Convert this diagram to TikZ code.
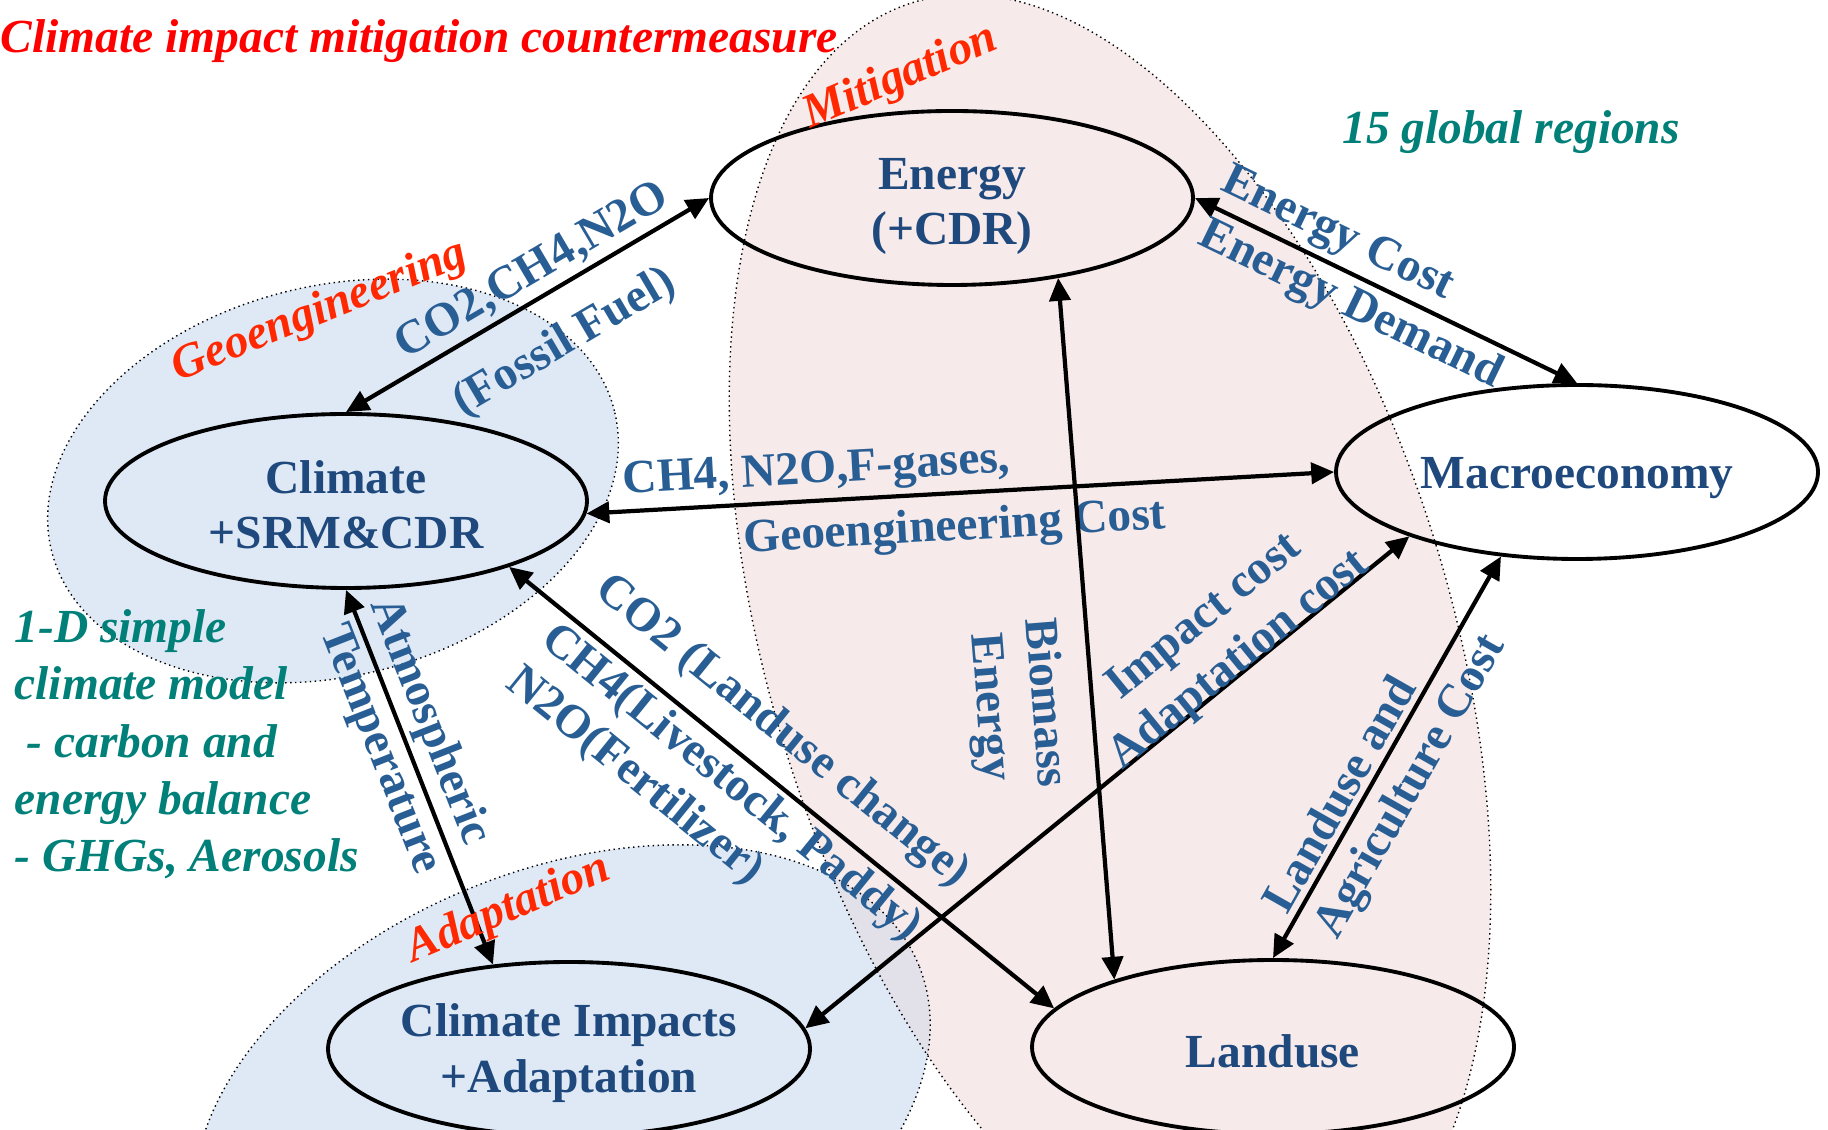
\documentclass[tikz,border=0pt]{standalone}
\usepackage{fontspec}
\setmainfont{Liberation Serif}
\usetikzlibrary{arrows.meta,shapes.geometric}

\definecolor{nodeblue}{RGB}{31,73,125}
\definecolor{linkblue}{RGB}{40,94,148}
\definecolor{regionteal}{RGB}{0,128,120}
\definecolor{tagred}{RGB}{255,40,0}
\definecolor{mitipink}{RGB}{246,234,234}
\definecolor{geoblue}{RGB}{223,233,246}
\definecolor{overlapgray}{RGB}{226,224,233}

\newcommand{\labelfont}{\bfseries\fontsize{13.5}{15.7}\selectfont}
\newcommand{\lift}[1]{\rule{0pt}{#1}}

\tikzset{
	model/.style={ellipse, draw, line width=1.1pt, minimum width=4.82cm, minimum height=1.74cm,
		inner sep=0pt, align=center, text=nodeblue, font=\labelfont},
	link/.style={line width=1.2pt, {Triangle[length=6.5pt,width=6pt]}-{Triangle[length=6.5pt,width=6pt]}},
	flow/.style={text=linkblue, font=\labelfont, sloped, inner sep=1.5pt},
	tag/.style={text=tagred, font=\bfseries\itshape\fontsize{13.5}{15.7}\selectfont},
	note/.style={text=regionteal, font=\bfseries\itshape\fontsize{13.5}{16.3}\selectfont},
	region/.style={draw, densely dotted, line width=0.4pt},
}

\begin{document}
\begin{tikzpicture}
		\useasboundingbox (0,0) rectangle (18.28,-11.30);
		% Regions
		\begin{scope}
			\clip (0,0) rectangle (18.28,-11.30);
			\fill[mitipink] (11.10,-6.45) circle[x radius=3.41, y radius=6.72, rotate=17];
			\fill[geoblue] (3.33,-4.81) circle[x radius=2.90, y radius=1.95, rotate=14];
			\fill[geoblue] (5.62,-11.10) circle[x radius=3.85, y radius=2.40, rotate=22];
			\begin{scope}
				\clip (11.10,-6.45) circle[x radius=3.41, y radius=6.72, rotate=17];
				\fill[overlapgray] (5.62,-11.10) circle[x radius=3.85, y radius=2.40, rotate=22];
			\end{scope}
			\draw[region] (11.10,-6.45) circle[x radius=3.41, y radius=6.72, rotate=17];
			\draw[region] (3.33,-4.81) circle[x radius=2.90, y radius=1.95, rotate=14];
			\draw[region] (5.62,-11.10) circle[x radius=3.85, y radius=2.40, rotate=22];
		\end{scope}
		% Nodes
		\node[model] (Energy) at (9.52,-1.98) {\lift{13.5pt}Energy\\(+CDR)};
		\node[model] (Climate) at (3.46,-5.01) {\lift{11.7pt}Climate\\+SRM\&CDR};
		\node[model] (Macro) at (15.77,-4.72) {\lift{12.3pt}Macroeconomy};
		\node[model] (CI) at (5.69,-10.49) {\lift{11.7pt}Climate Impacts\\+Adaptation};
		\node[model] (Landuse) at (12.73,-10.47) {\lift{12pt}Landuse};
		% Links
		\draw[link] (Climate.north) -- (Energy.west)
			node[flow, pos=.55, above] {CO2,CH4,N2O}
			node[flow, pos=.53, below=6.5pt] {(Fossil Fuel)};
		\draw[link] (Energy.east) -- (Macro.north)
			node[flow, pos=.34, above] {Energy Cost}
			node[flow, pos=.44, below] {Energy Demand};
		\draw[link] (Climate.-3) -- (Macro.west)
			node[flow, pos=.31, above] {CH4, N2O,F-gases,}
			node[flow, pos=.49, below=2pt] {Geoengineering Cost};
		\draw[link] (Energy.-37) -- (Landuse.157)
			node[flow, pos=.60, below=5.5pt, align=center] {Biomass\\Energy};
		\draw[link] (Climate.south) -- (CI.132)
			node[flow, pos=.38, above] {Atmospheric}
			node[flow, pos=.40, below] {Temperature};
		\draw[link] (Climate.-22) -- (Landuse.170)
			node[flow, pos=.45, above=4pt] {CO2 (Landuse change)}
			node[flow, pos=.44, below, align=left] {CH4(Livestock, Paddy)\\N2O(Fertilizer)};
		\draw[link] (CI.5) -- (Macro.201)
			node[flow, pos=.73, above=-5pt, align=center] {Impact cost\\Adaptation cost};
		\draw[link] (Landuse.north) -- (Macro.228)
			node[flow, pos=.38, above] {Landuse and}
			node[flow, pos=.47, below=2pt] {Agriculture Cost};
		% Tags
		\node[tag, text=red, anchor=west, inner sep=0pt] (title) at (0,-0.41) {Climate impact mitigation countermeasure};
		\node[tag, rotate=23] (mitigation) at (9.01,-0.78) {Mitigation};
		\node[tag, rotate=22] (geo) at (3.20,-3.12) {Geoengineering};
		\node[tag, rotate=23] (adaptation) at (5.09,-9.10) {Adaptation};
		\node[note] (regions) at (15.11,-1.32) {15 global regions};
		\node[note, anchor=north west, align=left, inner sep=0pt] (scm) at (0.14,-6.09)
			{1-D simple\\climate model\\\ - carbon and\\energy balance\\- GHGs, Aerosols};
\end{tikzpicture}
\end{document}
